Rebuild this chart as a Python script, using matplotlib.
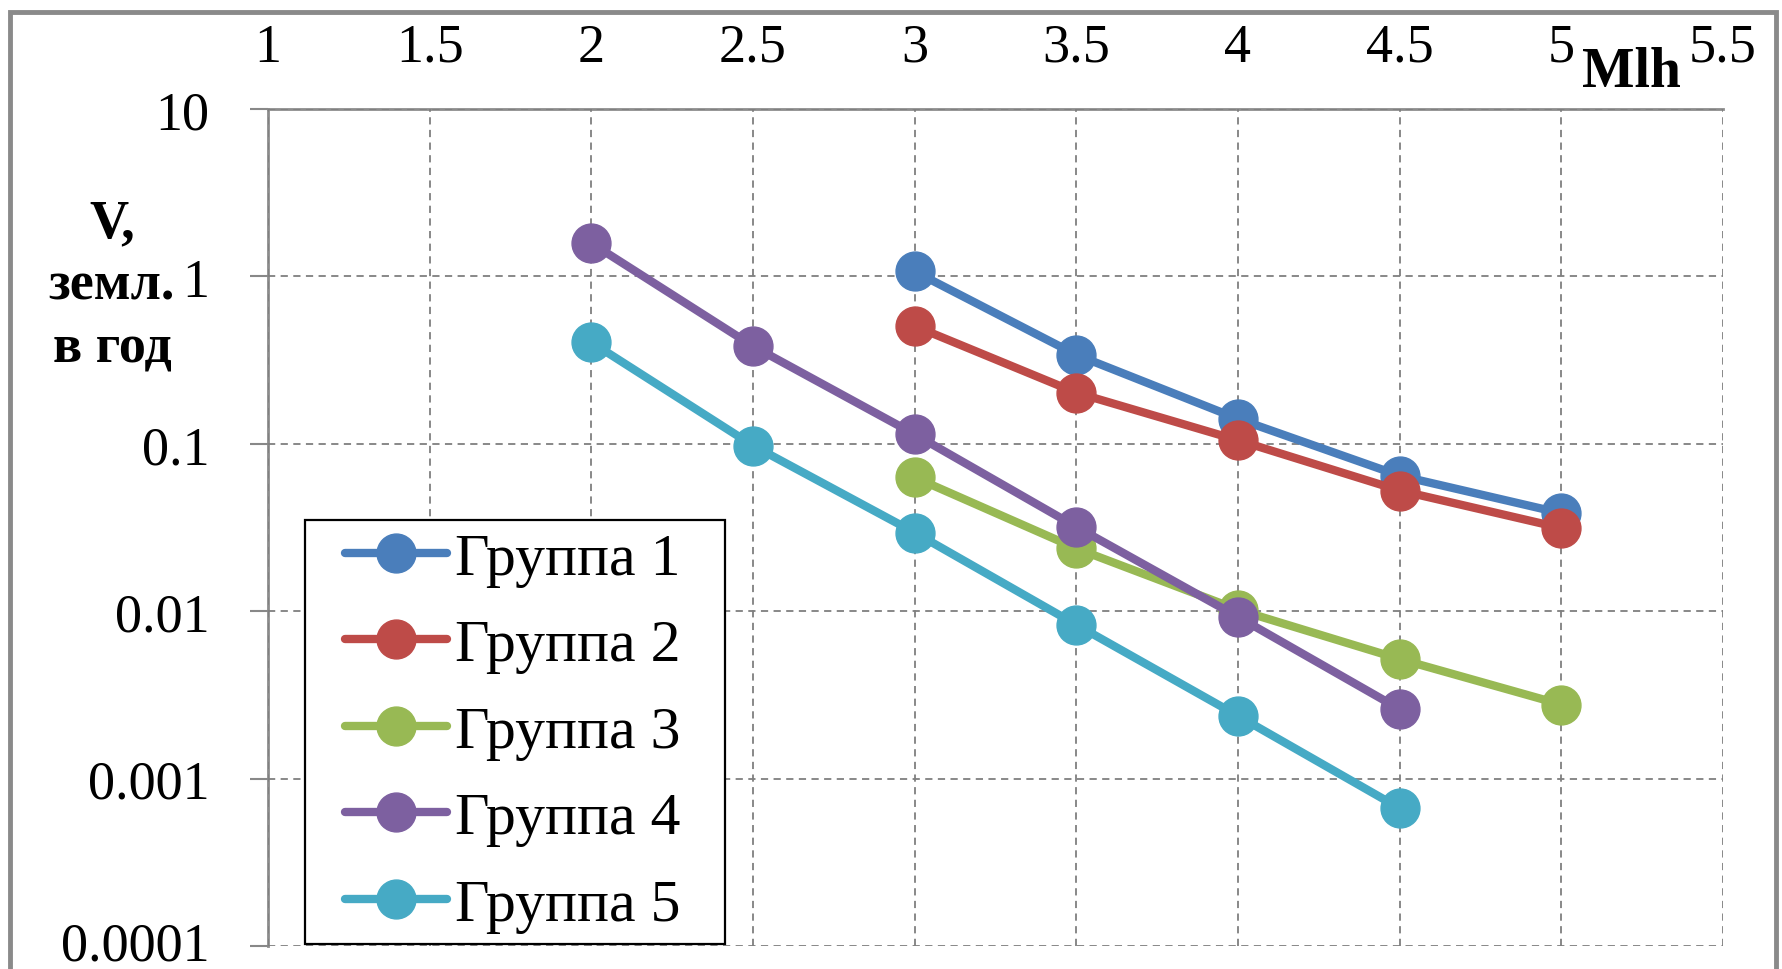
import matplotlib
matplotlib.use("Agg")
import matplotlib.pyplot as plt
from matplotlib.ticker import FixedLocator, FixedFormatter
from matplotlib.patches import Rectangle

plt.rcParams['font.family'] = ['Liberation Serif', 'DejaVu Serif']

# ---- data ----
x_ticks = [1, 1.5, 2, 2.5, 3, 3.5, 4, 4.5, 5, 5.5]
x_tick_labels = ["1", "1.5", "2", "2.5", "3", "3.5", "4", "4.5", "5", "5.5"]
y_ticks = [0.0001, 0.001, 0.01, 0.1, 1, 10]
y_tick_labels = ["0.0001", "0.001", "0.01", "0.1", "1", "10"]

series_names = ["Группа 1", "Группа 2", "Группа 3", "Группа 4", "Группа 5"]
g1_x = [3, 3.5, 4, 4.5, 5]
g1_y = [1.07, 0.34, 0.141, 0.0645, 0.0385]
g2_x = [3, 3.5, 4, 4.5, 5]
g2_y = [0.505, 0.202, 0.105, 0.0526, 0.0314]
g3_x = [3, 3.5, 4, 4.5, 5]
g3_y = [0.063, 0.0237, 0.0102, 0.00518, 0.00277]
g4_x = [2, 2.5, 3, 3.5, 4, 4.5]
g4_y = [1.58, 0.383, 0.114, 0.0319, 0.00925, 0.0026]
g5_x = [2, 2.5, 3, 3.5, 4, 4.5]
g5_y = [0.404, 0.0976, 0.0295, 0.0083, 0.00237, 0.000665]
colors = ["#4A7EBB", "#BE4B48", "#98B954", "#7D60A0", "#46AAC5"]

W, H = 1783, 970
fig = plt.figure(figsize=(W / 100, H / 100), dpi=100)
ax = fig.add_axes([268 / W, 1 - 947 / H, (1723 - 268) / W, (947 - 110) / H])

xs = [g1_x, g2_x, g3_x, g4_x, g5_x]
ys = [g1_y, g2_y, g3_y, g4_y, g5_y]
for name, x, y, c in zip(series_names, xs, ys, colors):
    ax.plot(x, y, color=c, lw=6, marker='o', markersize=28,
            markerfacecolor=c, markeredgecolor=c, label=name,
            solid_capstyle='round', zorder=3)

ax.set_yscale('log')
ax.set_xlim(1, 5.5)
ax.set_ylim(0.0001, 10)
ax.yaxis.set_major_locator(FixedLocator(y_ticks))
ax.yaxis.set_major_formatter(FixedFormatter(y_tick_labels))
ax.yaxis.set_minor_locator(FixedLocator([]))
ax.xaxis.set_major_locator(FixedLocator(x_ticks))
ax.xaxis.set_major_formatter(FixedFormatter(x_tick_labels))

ax.xaxis.tick_top()
ax.tick_params(axis='x', which='major', length=0, pad=26, labelsize=39)
ax.tick_params(axis='y', which='major', length=13, width=1.5, color='#888888',
               pad=29, labelsize=39)

ax.grid(True, which='major', color='#7f7f7f', linestyle=(0, (4, 3)), lw=1.3, zorder=0)
for s in ['right', 'bottom']:
    ax.spines[s].set_visible(False)
for s in ['left', 'top']:
    ax.spines[s].set_color('#8c8c8c')
    ax.spines[s].set_linewidth(2)
    ax.spines[s].set_zorder(1)

# keep the lowest tick label inside the picture
fig.canvas.draw()
ax.get_yticklabels()[0].set_verticalalignment('center')

# legend box drawn separately, entries placed on top of it
ax.add_patch(Rectangle((305 / W, 1 - 945 / H), (725 - 305) / W, (945 - 521) / H,
                       transform=fig.transFigure, facecolor='white',
                       edgecolor='black', lw=1.6, zorder=4, clip_on=False))
leg = ax.legend(loc='upper left', bbox_to_anchor=(345 / W, 1 - 533 / H),
                bbox_transform=fig.transFigure, fontsize=43, frameon=False,
                borderaxespad=0, borderpad=0, handlelength=1.71,
                handletextpad=0.13, labelspacing=0.53)
leg.set_zorder(5)

fig.text(112 / W, 1 - 287 / H, "V,\nземл.\nв год", ha='center', va='center',
         fontsize=39, fontweight='bold', linespacing=1.33)
fig.text(1631 / W, 1 - 73 / H, "Mlh", ha='center', va='center',
         fontsize=40, fontweight='bold')

fig.patches.append(Rectangle((10 / W, -0.05), (1776 - 10) / W, 1 - 13 / H + 0.05,
                             transform=fig.transFigure, fill=False,
                             edgecolor='#8a8a8a', lw=3.5))

fig.savefig("out.png", dpi=100, facecolor='white')
